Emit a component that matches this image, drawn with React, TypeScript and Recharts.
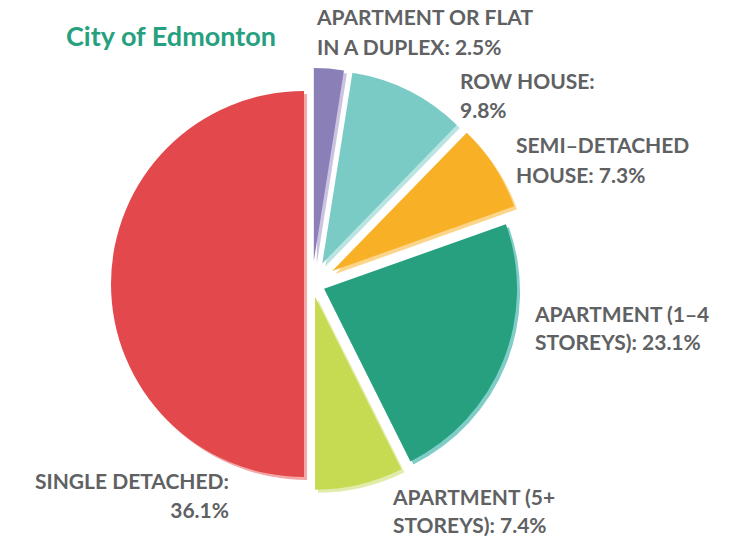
import React from "react";
import { PieChart, Pie, Cell, Sector } from "recharts";

const categories = [
  "Apartment or flat in a duplex",
  "Row house",
  "Semi-detached house",
  "Apartment (1–4 storeys)",
  "Apartment (5+ storeys)",
  "Single detached",
];
// percentage printed in each label
const labelPercents = [2.5, 9.8, 7.3, 23.1, 7.4, 36.1];
// slice sizes as drawn in the picture (single detached fills half the circle)
const sliceValues = [2.5, 9.8, 7.3, 23.1, 7.4, 50.1];
const labelLine1 = ["APARTMENT OR FLAT", "ROW HOUSE:", "SEMI–DETACHED", "APARTMENT (1–4", "APARTMENT (5+", "SINGLE DETACHED:"];
const labelLine2Prefix = ["IN A DUPLEX: ", "", "HOUSE: ", "STOREYS): ", "STOREYS): ", ""];

const COLORS = ["#8b7fb8", "#7acbc6", "#f8b126", "#27a07f", "#c6da52", "#e3494c"];
const SHADOW = ["#cbc3e0", "#b9e4e1", "#fcd58a", "#7fcdc6", "#e2ecaa", "#f3a8a6"];
const EXPLODE = [23, 23, 24, 13, 13, 8];
const LABEL_POS = [
  { x: 317, y: 25, gap: 30, anchor: "start" },
  { x: 460, y: 89, gap: 29, anchor: "start" },
  { x: 516, y: 153, gap: 30, anchor: "start" },
  { x: 535, y: 322, gap: 28, anchor: "start" },
  { x: 393, y: 505, gap: 28, anchor: "start" },
  { x: 229, y: 489, gap: 29, anchor: "end" },
];

const data = categories.map((name, i) => ({
  name,
  value: sliceValues[i],
  pct: labelPercents[i],
}));

const RAD = Math.PI / 180;
const FONT = "Lato, 'Open Sans', sans-serif";

const ExplodedSlice = (props: any) => {
  const { cx, cy, innerRadius, outerRadius, startAngle, endAngle, midAngle, index } = props;
  const e = EXPLODE[index] ?? 0;
  const dx = e * Math.cos(-midAngle * RAD);
  const dy = e * Math.sin(-midAngle * RAD);
  return (
    <g>
      <Sector
        cx={cx + dx + 3}
        cy={cy + dy + 3}
        innerRadius={innerRadius}
        outerRadius={outerRadius}
        startAngle={startAngle}
        endAngle={endAngle}
        fill={SHADOW[index]}
        stroke="none"
      />
      <Sector
        cx={cx + dx}
        cy={cy + dy}
        innerRadius={innerRadius}
        outerRadius={outerRadius}
        startAngle={startAngle}
        endAngle={endAngle}
        fill={COLORS[index]}
        stroke="none"
      />
    </g>
  );
};

const renderLabel = (props: any) => {
  const { index } = props;
  const p = LABEL_POS[index];
  return (
    <text
      key={`lbl-${index}`}
      x={p.x}
      y={p.y}
      textAnchor={p.anchor}
      fill="#606163"
      fontFamily={FONT}
      fontWeight={700}
      fontSize={21}
    >
      <tspan x={p.x} y={p.y}>{labelLine1[index]}</tspan>
      <tspan x={p.x} y={p.y + p.gap}>{`${labelLine2Prefix[index]}${data[index].pct}%`}</tspan>
    </text>
  );
};

export default function App() {
  return (
    <div style={{ position: "absolute", left: 0, top: 0, width: 748, height: 540, background: "#fff" }}>
      <PieChart width={748} height={540} margin={{ top: 0, right: 0, bottom: 0, left: 0 }}>
        <text x={66} y={46} fill="#26a07e" fontFamily={FONT} fontWeight={700} fontSize={27}>
          City of Edmonton
        </text>
        <Pie
          data={data}
          dataKey="value"
          nameKey="name"
          cx={312}
          cy={284}
          outerRadius={193}
          innerRadius={0}
          startAngle={90}
          endAngle={-270}
          stroke="none"
          isAnimationActive={false}
          shape={ExplodedSlice}
          activeShape={ExplodedSlice}
          inactiveShape={ExplodedSlice}
          label={renderLabel}
          labelLine={false}
        >
          {data.map((d, i) => (
            <Cell key={d.name} fill={COLORS[i]} />
          ))}
        </Pie>
      </PieChart>
    </div>
  );
}
